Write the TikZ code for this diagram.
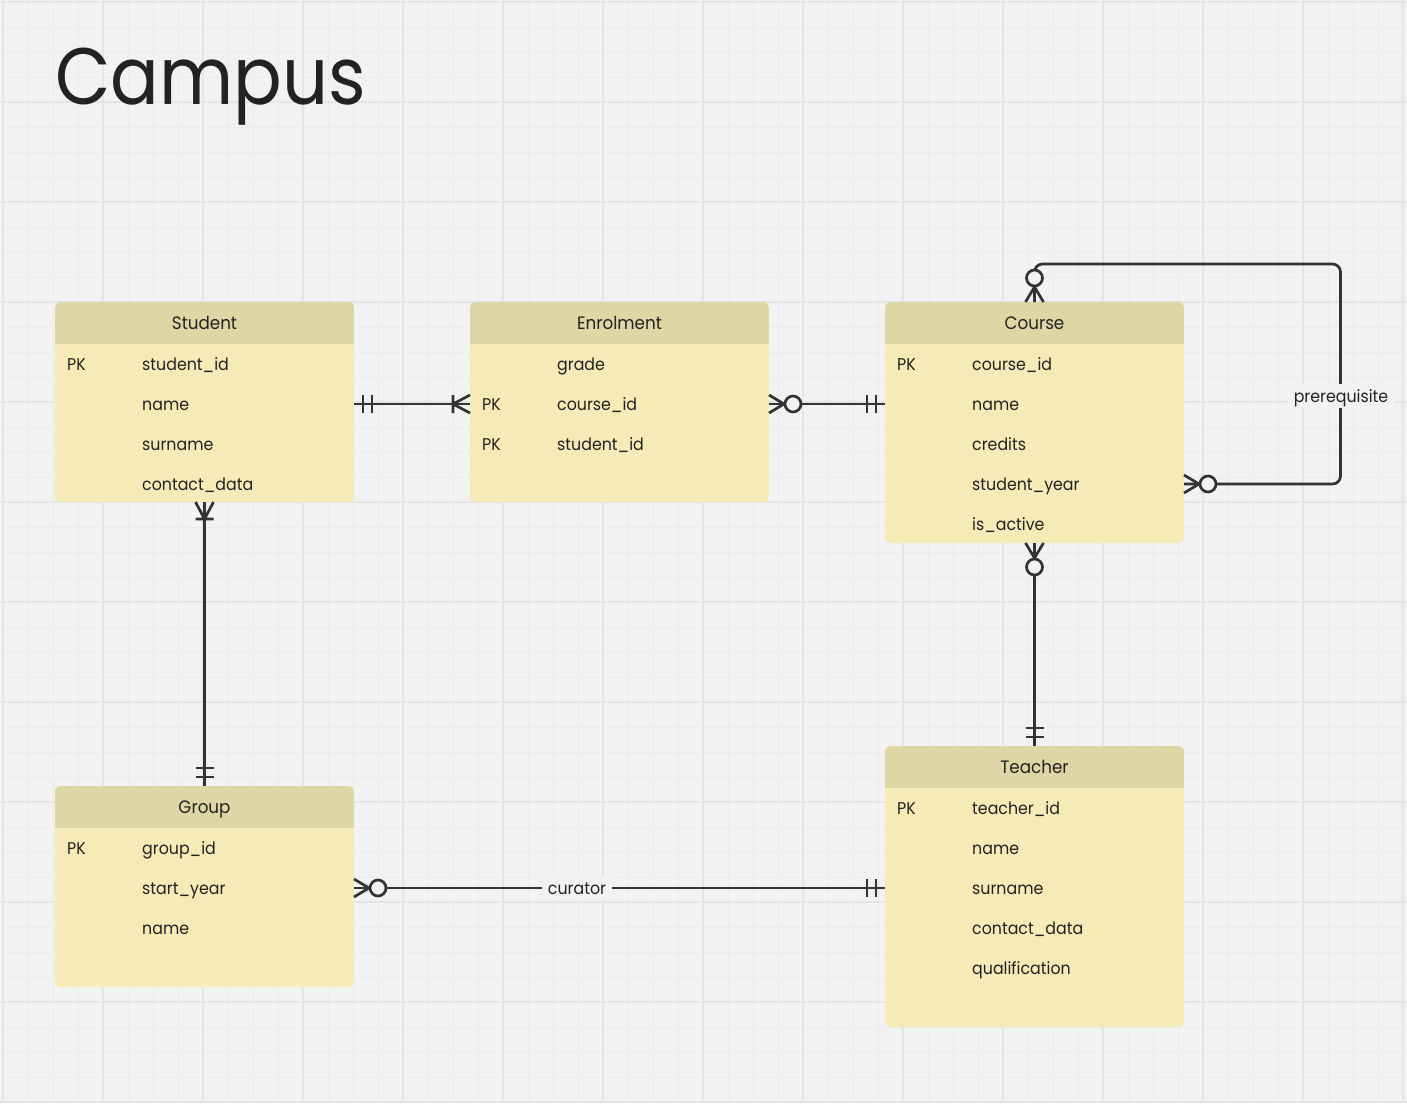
\documentclass[tikz,border=0pt]{standalone}
\usepackage{fontspec}
\setmainfont{Poppins}[FakeStretch=0.93]
\newfontfamily\campusfont{Poppins}[FakeStretch=0.9]
\usepackage{tikz}
\usetikzlibrary{positioning}

\begin{document}
\begin{tikzpicture}[x=1pt,y=-1pt,
	tbl/.style={rounded corners=6pt, fill=tablefill, minimum width=299pt, inner sep=0, outer sep=0, anchor=north west},
	title/.style={font=\fontsize{18pt}{18pt}\selectfont, text=textcol, inner sep=0, text height=15pt, text depth=3pt},
	field/.style={font=\fontsize{17pt}{17pt}\selectfont, text=textcol, inner sep=0, anchor=west, text height=15pt, text depth=3pt},
	rel/.style={line width=2.7pt, draw=linecol},
	lbl/.style={font=\fontsize{17pt}{17pt}\selectfont, text=textcol, fill=bgcol, inner xsep=6pt, inner ysep=3pt, text height=15pt, text depth=3pt},
	onlyone/.pic={\draw[rel] (9,-9) -- (9,9) (18,-9) -- (18,9);},
	onemany/.pic={\draw[rel] (0,-9) -- (17,0) -- (0,9) (17,-9) -- (17,9);},
	zeromany/.pic={\draw[rel] (0,-9) -- (15,0) -- (0,9); \draw[rel, fill=bgcol] (24,0) circle (8);}]
	\definecolor{bgcol}{RGB}{242, 242, 242}
	\definecolor{minorcol}{RGB}{235, 235, 235}
	\definecolor{majorcol}{RGB}{228, 228, 228}
	\definecolor{tablefill}{RGB}{246, 235, 183}
	\definecolor{headfill}{RGB}{222, 214, 164}
	\definecolor{linecol}{RGB}{51, 51, 51}
	\definecolor{textcol}{RGB}{34, 34, 34}
	\useasboundingbox (0,0) rectangle (1407,1103);
	\fill[bgcol] (0,0) rectangle (1407,1103);
	% grid
	\foreach \gx in {3,28,...,1403} \draw[minorcol, line width=1pt] (\gx,0) -- (\gx,1103);
	\foreach \gy in {2,27,...,1102} \draw[minorcol, line width=1pt] (0,\gy) -- (1407,\gy);
	\foreach \gx in {3,103,...,1403} \draw[majorcol, line width=1.2pt] (\gx,0) -- (\gx,1103);
	\foreach \gy in {2,102,...,1102} \draw[majorcol, line width=1.2pt] (0,\gy) -- (1407,\gy);
	\node[inner sep=0, anchor=base west, text=textcol, font=\fontsize{80pt}{80pt}\campusfont] (campus) at (55,104) {Campus};

	% Student
	\node[tbl, minimum height=200pt] (student) at (55,302) {};
	\begin{scope}
		\clip[rounded corners=6pt] (student.north west) rectangle (student.south east);
		\fill[headfill] (55,302) rectangle (354,344);
	\end{scope}
	\node[title] (student-title) at (204.5,323) {Student};
	\node[field] (student-pk) at (67,364) {PK};
	\node[field] (student-id) at (142,364) {student\_id};
	\node[field] (student-name) at (142,404) {name};
	\node[field] (student-surname) at (142,444) {surname};
	\node[field] (student-contact) at (142,484) {contact\_data};

	% Enrolment
	\node[tbl, minimum height=200pt] (enrolment) at (470,302) {};
	\begin{scope}
		\clip[rounded corners=6pt] (enrolment.north west) rectangle (enrolment.south east);
		\fill[headfill] (470,302) rectangle (769,344);
	\end{scope}
	\node[title] (enrolment-title) at (619.5,323) {Enrolment};
	\node[field] (enrolment-grade) at (557,364) {grade};
	\node[field] (enrolment-pk1) at (482,404) {PK};
	\node[field] (enrolment-course) at (557,404) {course\_id};
	\node[field] (enrolment-pk2) at (482,444) {PK};
	\node[field] (enrolment-student) at (557,444) {student\_id};

	% Course
	\node[tbl, minimum height=241pt] (course) at (885,302) {};
	\begin{scope}
		\clip[rounded corners=6pt] (course.north west) rectangle (course.south east);
		\fill[headfill] (885,302) rectangle (1184,344);
	\end{scope}
	\node[title] (course-title) at (1034.5,323) {Course};
	\node[field] (course-pk) at (897,364) {PK};
	\node[field] (course-id) at (972,364) {course\_id};
	\node[field] (course-name) at (972,404) {name};
	\node[field] (course-credits) at (972,444) {credits};
	\node[field] (course-year) at (972,484) {student\_year};
	\node[field] (course-active) at (972,524) {is\_active};

	% Group
	\node[tbl, minimum height=201pt] (group) at (55,786) {};
	\begin{scope}
		\clip[rounded corners=6pt] (group.north west) rectangle (group.south east);
		\fill[headfill] (55,786) rectangle (354,828);
	\end{scope}
	\node[title] (group-title) at (204.5,807) {Group};
	\node[field] (group-pk) at (67,848) {PK};
	\node[field] (group-id) at (142,848) {group\_id};
	\node[field] (group-start) at (142,888) {start\_year};
	\node[field] (group-name) at (142,928) {name};

	% Teacher
	\node[tbl, minimum height=281pt] (teacher) at (885,746) {};
	\begin{scope}
		\clip[rounded corners=6pt] (teacher.north west) rectangle (teacher.south east);
		\fill[headfill] (885,746) rectangle (1184,788);
	\end{scope}
	\node[title] (teacher-title) at (1034.5,767) {Teacher};
	\node[field] (teacher-pk) at (897,808) {PK};
	\node[field] (teacher-id) at (972,808) {teacher\_id};
	\node[field] (teacher-name) at (972,848) {name};
	\node[field] (teacher-surname) at (972,888) {surname};
	\node[field] (teacher-contact) at (972,928) {contact\_data};
	\node[field] (teacher-qual) at (972,968) {qualification};

	% relations
	\draw[rel] (student.east |- student-name) -- (enrolment.west |- student-name);
	\draw[rel] (enrolment.east |- enrolment-course) -- (course.west |- enrolment-course);
	\draw[rel] (student.south) -- (group.north);
	\draw[rel] (course.south) -- (teacher.north);
	\draw[rel] (group.east |- group-start) -- (teacher.west |- group-start);
	\draw[rel, rounded corners=8pt] (course.north) |- ++(306,-38) |- (course.east |- course-year);
	\node[lbl] (curator) at (577,888) {curator};
	\node[lbl] (prereq) at (1341,396) {prerequisite};

	\pic at (student.east |- student-name) {onlyone};
	\pic[rotate=180] at (enrolment.west |- student-name) {onemany};
	\pic at (enrolment.east |- enrolment-course) {zeromany};
	\pic[rotate=180] at (course.west |- enrolment-course) {onlyone};
	\pic[rotate=-90] at (student.south) {onemany};
	\pic[rotate=90] at (group.north) {onlyone};
	\pic[rotate=-90] at (course.south) {zeromany};
	\pic[rotate=90] at (teacher.north) {onlyone};
	\pic at (group.east |- group-start) {zeromany};
	\pic[rotate=180] at (teacher.west |- group-start) {onlyone};
	\pic[rotate=90] at (course.north) {zeromany};
	\pic at (course.east |- course-year) {zeromany};
\end{tikzpicture}
\end{document}
